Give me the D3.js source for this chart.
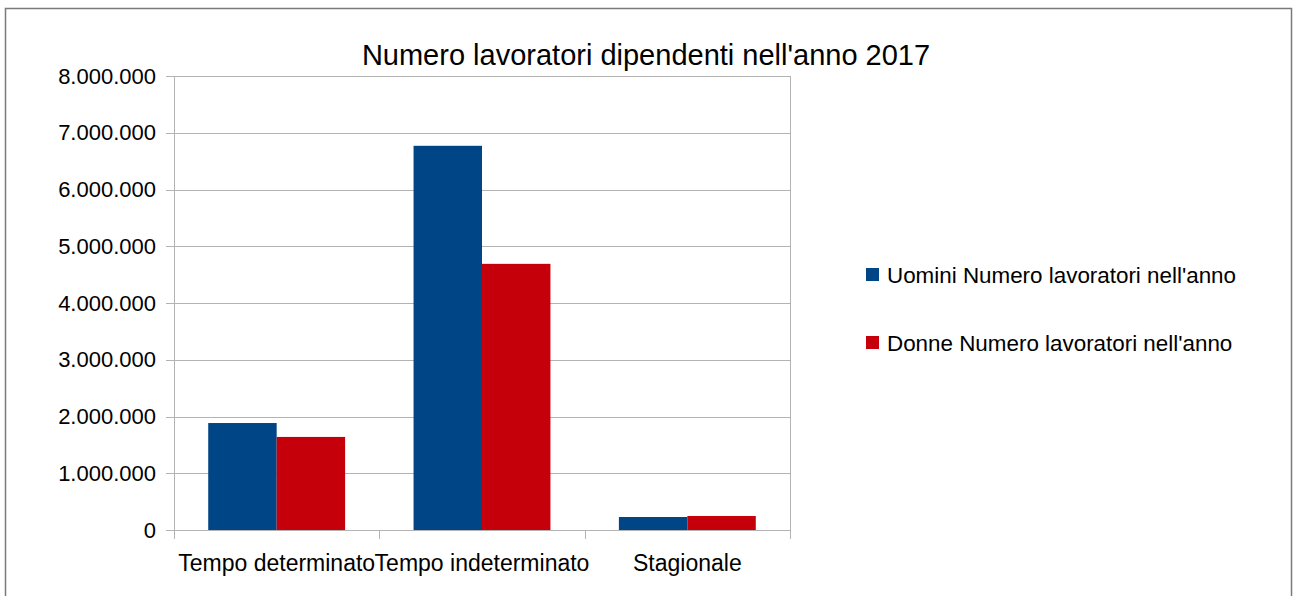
<!DOCTYPE html>
<html>
<head>
<meta charset="utf-8">
<script src="https://cdn.jsdelivr.net/npm/d3@7"></script>
<style>
    body { margin: 0; background: #fff; }
    svg text { font-family: "Liberation Sans", Arial, sans-serif; fill: #000; }
</style>
</head>
<body>
<svg id="chart" width="1293" height="596"></svg>
<script>
// Chart data
const categories = ["Tempo determinato", "Tempo indeterminato", "Stagionale"];
const seriesNames = ["Uomini Numero lavoratori nell'anno", "Donne Numero lavoratori nell'anno"];
const uomini = [1885000, 6770000, 229000];
const donne = [1640000, 4690000, 247000];
const yTicks = [0, 1000000, 2000000, 3000000, 4000000, 5000000, 6000000, 7000000, 8000000];
const colors = ["#004586", "#c5000b"];
const title = "Numero lavoratori dipendenti nell'anno 2017";

const svg = d3.select('#chart');

// outer frame
svg.append('rect')
    .attr('x', 5.5).attr('y', 8.5)
    .attr('width', 1286).attr('height', 600)
    .attr('fill', 'none')
    .attr('stroke', '#7a7a7a')
    .attr('stroke-width', 1.5);

const plot = { left: 174, right: 790, top: 76, bottom: 530 };

const x0 = d3.scaleBand()
    .domain(categories)
    .range([plot.left, plot.right])
    .paddingInner(0)
    .paddingOuter(0);

const x1 = d3.scaleBand()
    .domain([0, 1])
    .range([0, x0.bandwidth()])
    .paddingOuter(0.5)
    .paddingInner(0);

const y = d3.scaleLinear()
    .domain([0, 8000000])
    .range([plot.bottom, plot.top]);

const fmt = v => d3.format(',')(v).replace(/,/g, '.');

// gridlines
svg.append('g')
    .selectAll('line')
    .data(yTicks)
    .enter()
    .append('line')
    .attr('x1', plot.left - 8)
    .attr('x2', plot.right)
    .attr('y1', d => Math.round(y(d)) + 0.5)
    .attr('y2', d => Math.round(y(d)) + 0.5)
    .attr('stroke', '#b3b3b3')
    .attr('stroke-width', 1);

// y axis
const yAxis = svg.append('g')
    .attr('transform', `translate(${plot.left},0)`)
    .call(d3.axisLeft(y).tickValues(yTicks).tickFormat(fmt).tickSize(0).tickPadding(18));
yAxis.select('.domain').remove();
yAxis.selectAll('text')
    .style('font-size', '22px')
    .attr('fill', '#000');

// bars
const data = categories.map((c, i) => ({ cat: c, values: [uomini[i], donne[i]] }));

svg.append('g')
    .selectAll('g')
    .data(data)
    .enter()
    .append('g')
    .attr('transform', d => `translate(${x0(d.cat)},0)`)
    .selectAll('rect')
    .data(d => d.values.map((v, k) => ({ k, v })))
    .enter()
    .append('rect')
    .attr('x', d => x1(d.k))
    .attr('y', d => y(d.v))
    .attr('width', x1.bandwidth())
    .attr('height', d => y(0) - y(d.v))
    .attr('fill', d => colors[d.k]);

// vertical axis lines at left and right edge of plot
svg.append('g')
    .selectAll('line')
    .data([plot.left, plot.right])
    .enter()
    .append('line')
    .attr('x1', d => d + 0.5).attr('x2', d => d + 0.5)
    .attr('y1', plot.top).attr('y2', plot.bottom + 9)
    .attr('stroke', '#b3b3b3');

// x axis
const xAxis = svg.append('g')
    .attr('transform', `translate(0,${plot.bottom})`)
    .call(d3.axisBottom(x0).tickSize(0).tickPadding(25));
xAxis.select('.domain').remove();
xAxis.selectAll('text')
    .style('font-size', '23px')
    .attr('fill', '#000');

// category boundary ticks
svg.append('g')
    .selectAll('line')
    .data(categories.slice(1))
    .enter()
    .append('line')
    .attr('x1', d => Math.round(x0(d)) + 0.5)
    .attr('x2', d => Math.round(x0(d)) + 0.5)
    .attr('y1', plot.bottom)
    .attr('y2', plot.bottom + 9)
    .attr('stroke', '#b3b3b3');

// baseline
svg.append('line')
    .attr('x1', plot.left).attr('x2', plot.right)
    .attr('y1', plot.bottom + 0.5).attr('y2', plot.bottom + 0.5)
    .attr('stroke', '#b3b3b3');

// title
svg.append('text')
    .attr('x', 646)
    .attr('y', 65)
    .attr('text-anchor', 'middle')
    .style('font-size', '29px')
    .text(title);

// legend
const legend = svg.append('g')
    .selectAll('g')
    .data(seriesNames)
    .enter()
    .append('g')
    .attr('transform', (d, i) => `translate(866,${275 + i * 68})`);

legend.append('rect')
    .attr('x', 0).attr('y', -7)
    .attr('width', 13).attr('height', 13)
    .attr('fill', (d, i) => colors[i]);

legend.append('text')
    .attr('x', 21)
    .attr('y', 8)
    .style('font-size', '22.4px')
    .text(d => d);
</script>
</body>
</html>
